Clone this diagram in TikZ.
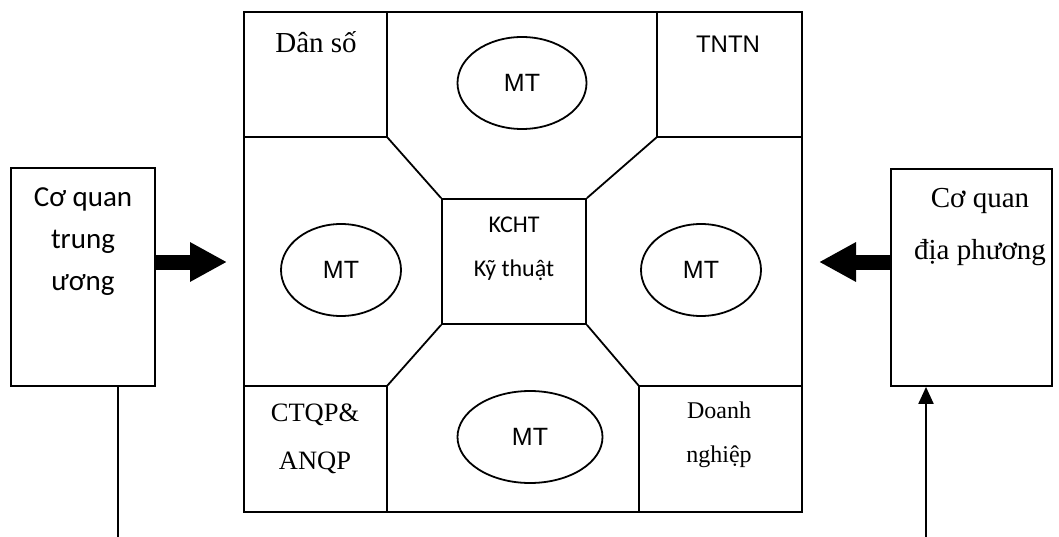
\documentclass[tikz,border=0pt]{standalone}
\usepackage{fontspec}
\setmainfont{Liberation Serif}
\newfontfamily\calibrif{Carlito}
\newfontfamily\arialf{Liberation Sans}
\usetikzlibrary{shapes.geometric,arrows.meta}

\begin{document}
\begin{tikzpicture}[x=1pt,y=-1pt,line width=1.8pt,
        khoi/.style={draw, inner sep=0pt},
        oval/.style={draw, ellipse, inner sep=0pt, minimum height=92pt, font=\arialf\fontsize{25}{28}\selectfont},
        chu/.style={align=center, inner sep=0pt},
        muiten/.style={line width=15pt, -{Triangle[length=37pt,width=37pt]}},
        muitennho/.style={line width=2pt, -{Triangle[length=17pt,width=15pt]}}]
                \useasboundingbox (0,0) rectangle (1059,537);
                \node[khoi, minimum width=558pt, minimum height=500pt] (khung) at (523,262) {};
                \coordinate (gtt) at (387,137);
                \coordinate (gtp) at (657,137);
                \coordinate (gdt) at (387,386);
                \coordinate (gdp) at (639,386);
                \draw (387,12) -- (gtt) -- (244,137);
                \draw (657,12) -- (gtp) -- (802,137);
                \draw (244,386) -- (gdt) -- (387,512);
                \draw (802,386) -- (gdp) -- (639,512);
                \node[khoi, minimum width=144pt, minimum height=125pt] (kcht) at (514,261.5) {};
                \draw (gtt) -- (kcht.north west);
                \draw (gtp) -- (kcht.north east);
                \draw (gdt) -- (kcht.south west);
                \draw (gdp) -- (kcht.south east);
                \node[chu, font=\calibrif\fontsize{24}{44}\selectfont] (kchtchu) at (514,249) {KCHT\\Kỹ thuật};
                \node[oval, minimum width=129pt] (mttren) at (522,83) {MT};
                \node[oval, minimum width=120pt] (mttrai) at (341,270) {MT};
                \node[oval, minimum width=120pt] (mtphai) at (701,270) {MT};
                \node[oval, minimum width=145pt] (mtduoi) at (530,437) {MT};
                \node[chu, font=\fontsize{29}{30}\selectfont] (danso) at (316,42) {Dân số};
                \node[chu, font=\arialf\fontsize{24}{25}\selectfont] (tntn) at (728,44) {TNTN};
                \node[chu, font=\fontsize{26.5}{48}\selectfont] (ctqp) at (315,439) {CTQP\&\\ANQP};
                \node[chu, font=\fontsize{24}{44}\selectfont] (dn) at (719,435) {Doanh\\nghiệp};
                \node[khoi, minimum width=144pt, minimum height=218pt] (tw) at (83,277) {};
                \node[chu, font=\calibrif\fontsize{29}{42}\selectfont] (twchu) at (83,242) {Cơ quan\\trung\\ương};
                \node[khoi, minimum width=161pt, minimum height=217pt] (dp) at (971.5,277.5) {};
                \node[chu, font=\fontsize{29}{52}\selectfont] (dpchu) at (980,227) {Cơ quan\\địa phương};
                \coordinate (twmui) at (227,262);
                \coordinate (dpmui) at (819,262);
                \coordinate (twday) at (118,537);
                \coordinate (dpday) at (926,537);
                \draw[muiten] ([yshift=15pt]tw.east) -- (twmui);
                \draw[muiten] ([yshift=15.5pt]dp.west) -- (dpmui);
                \draw ([xshift=35pt]tw.south) -- (twday);
                \draw[muitennho] (dpday) -- ([xshift=-45.5pt]dp.south);
            \end{tikzpicture}
\end{document}
